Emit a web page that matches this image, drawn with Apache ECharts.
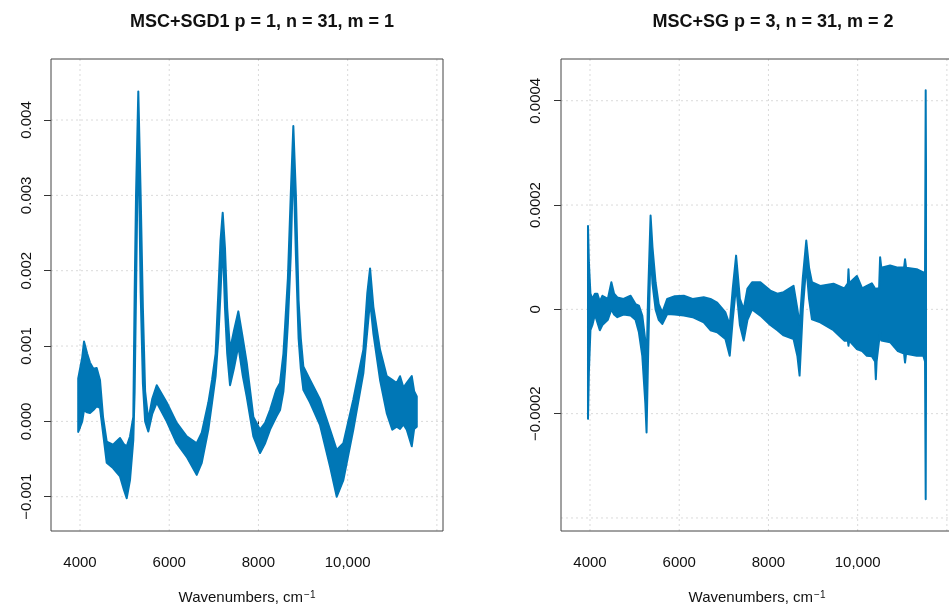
<!DOCTYPE html>
<html>
<head>
<meta charset="utf-8">
<script src="https://cdn.jsdelivr.net/npm/echarts@6/dist/echarts.min.js"></script>
<style>html,body{margin:0;padding:0;background:#fff}#c{width:949px;height:606px}</style>
</head>
<body>
<div id="c"></div>
<script>
// ---- Left panel: MSC+SGD1 (envelope of the 31 spectra) ----
const wnLeft = [3960,4050,4090,4160,4224,4300,4374,4448,4516,4599,4740,4897,4980,5047,5121,5195,5225,5256,5307,5360,5410,5460,5531,5620,5720,5944,6168,6392,6616,6729,6877,6960,7040,7100,7150,7199,7250,7300,7363,7450,7549,7650,7737,7886,8036,8150,8260,8400,8484,8560,8600,8660,8724,8782,8840,8900,8950,9006,9157,9381,9605,9755,9903,10127,10352,10440,10502,10576,10726,10876,11000,11100,11174,11250,11325,11437,11490,11549];
const upperLeft = [0.00057,0.00085,0.00106,0.0009,0.00078,0.0007,0.00071,0.00055,0.00006,-0.00027,-0.00031,-0.00022,-0.0003,-0.00033,-0.0002,0.00006,0.0017,0.003,0.00438,0.003,0.0015,0.0004,0.00002,0.0003,0.00048,0.00025,-0.00002,-0.0002,-0.00029,-0.00015,0.00025,0.00055,0.0009,0.0017,0.0024,0.00277,0.0023,0.0015,0.00095,0.0012,0.00146,0.0011,0.00078,0.00006,-0.00011,-0.00002,0.00015,0.00042,0.00051,0.0009,0.0013,0.0019,0.003,0.00392,0.003,0.0016,0.0011,0.00073,0.00055,0.00029,-0.00011,-0.00038,-0.00029,0.00029,0.00095,0.0017,0.00203,0.00152,0.00095,0.0006,0.00055,0.00051,0.0006,0.00045,0.00051,0.0006,0.0004,0.00033];
const lowerLeft = [-0.00014,0.0,0.00015,0.00012,0.00011,0.00015,0.0002,0.00018,-0.00015,-0.00055,-0.00062,-0.00073,-0.0009,-0.00102,-0.00078,-0.00025,0.0004,0.0017,0.004,0.0017,0.0005,0.0,-0.000135,0.0001,0.00025,0.0,-0.00029,-0.00047,-0.00071,-0.00055,-0.00011,0.00025,0.0006,0.0011,0.0017,0.0024,0.0015,0.0009,0.00048,0.0007,0.001,0.0006,0.00033,-0.0002,-0.00042,-0.00029,-0.00011,0.00006,0.00015,0.0004,0.0007,0.0013,0.0022,0.0035,0.0022,0.0011,0.0007,0.00042,0.00025,-0.00005,-0.0006,-0.001,-0.00078,-0.00011,0.00064,0.0012,0.0016,0.00117,0.00055,0.00011,-0.00011,-0.00007,-0.0001,-0.00004,-0.00011,-0.00033,-0.0001,-0.00007];

// ---- Right panel: MSC+SG (envelope of the 31 spectra) ----
const wnRight = [3955,3975,4010,4054,4110,4166,4220,4277,4400,4479,4540,4613,4750,4910,5020,5096,5172,5240,5268,5300,5358,5400,5470,5540,5620,5731,5900,6103,6300,6550,6700,6850,7036,7132,7200,7275,7360,7445,7530,7633,7819,8042,8200,8340,8563,8650,8698,8770,8848,8910,8975,9161,9458,9700,9780,9794,9810,9982,10100,10205,10317,10390,10407,10425,10480,10503,10530,10727,10900,11040,11062,11085,11324,11472,11510,11525,11532];
const upperRight = [0.00016,0.00009,0.00003,0.00002,0.00003,0.00003,0.000015,0.000026,0.00002,0.000052,0.00003,0.000023,0.00002,0.000026,0.00001,0.000007,-0.000012,-0.00006,-0.000108,0.00002,0.00018,0.00012,0.000052,0.00001,-0.000006,0.00002,0.000025,0.000026,0.00002,0.000023,0.00002,0.000013,-0.000006,-0.00003,0.00004,0.000103,0.00002,0.0,0.00004,0.000052,0.000052,0.000036,0.00003,0.000033,0.000045,0.0,-0.00003,0.00006,0.000132,0.00008,0.000052,0.000045,0.000049,0.00004,0.00005,0.000077,0.00005,0.000064,0.00004,0.000045,0.00005,0.00004,0.000039,0.00004,0.00004,0.0001,0.00008,0.000084,0.00008,0.00008,0.000096,0.00008,0.000077,0.000071,0.00007,0.00042,0.00027];
const lowerRight = [-0.00021,-0.00012,-0.00004,-0.00003,-0.00001,-0.000025,-0.00004,-0.00003,-0.00002,0.0,-0.00001,-0.000015,-0.00001,-0.000012,-0.00002,-0.000044,-0.000089,-0.00018,-0.000236,-0.0001,0.000116,0.00005,0.0,-0.00002,-0.000028,-0.000009,-0.00001,-0.000012,-0.000015,-0.000025,-0.00004,-0.000044,-0.000057,-0.000089,-0.00002,0.000045,-0.00003,-0.00006,-0.00002,0.0,-0.000012,-0.00003,-0.00004,-0.00005,-0.000057,-0.00009,-0.000127,0.0,0.000084,0.00002,-0.000019,-0.000025,-0.00004,-0.00006,-0.00006,-0.00007,-0.00006,-0.000076,-0.00008,-0.000089,-0.00009,-0.0001,-0.000134,-0.0001,-0.00006,-0.000044,-0.00006,-0.000063,-0.00008,-0.000085,-0.000102,-0.000085,-0.000089,-0.000089,-0.0001,-0.000364,-0.00015];

// ---- Axis ticks / labels / gridlines ----
const xTicks = [4000, 6000, 8000, 10000];
const xTickLabels = ['4000', '6000', '8000', '10,000'];
const xGrid = [4000, 6000, 8000, 10000, 12000];
const yTicksLeft = [-0.001, 0, 0.001, 0.002, 0.003, 0.004];
const yTickLabelsLeft = ['\u22120.001', '0.000', '0.001', '0.002', '0.003', '0.004'];
const yGridLeft = [-0.001, 0, 0.001, 0.002, 0.003, 0.004];
const yTicksRight = [-0.0002, 0, 0.0002, 0.0004];
const yTickLabelsRight = ['\u22120.0002', '0', '0.0002', '0.0004'];
const yGridRight = [-0.0004, -0.0002, 0, 0.0002, 0.0004];

const titles = ['MSC+SGD1 p = 1, n = 31, m = 1', 'MSC+SG p = 3, n = 31, m = 2'];

const BLUE = '#0077b6';
const FONT = 'Liberation Sans, Arial, Helvetica, sans-serif';
const INK = '#111';
const GRIDC = '#dadada';

function lbl(ticks, labels) {
  return function (v) {
    for (let i = 0; i < ticks.length; i++) if (Math.abs(ticks[i] - v) < 1e-9) return labels[i];
    return '';
  };
}

function bandRenderer(xs, us, ls) {
  return function (params, api) {
    if (params.dataIndex !== 0) return null;
    const pts = [];
    for (let i = 0; i < xs.length; i++) pts.push(api.coord([xs[i], us[i]]));
    for (let i = xs.length - 1; i >= 0; i--) pts.push(api.coord([xs[i], ls[i]]));
    return {
      type: 'polygon',
      shape: { points: pts },
      style: { fill: BLUE, stroke: BLUE, lineWidth: 2, lineJoin: 'round' }
    };
  };
}

function gridSeries(idx, ys) {
  const data = [];
  xGrid.forEach(v => data.push([v, ys[0], 0]));
  ys.forEach(v => data.push([xGrid[0], v, 1]));
  return {
    type: 'custom', xAxisIndex: idx, yAxisIndex: idx, z: 1, silent: true, clip: true,
    encode: { x: 0, y: 1 },
    data: data,
    renderItem: function (params, api) {
      const cs = params.coordSys;
      const p = api.coord([api.value(0), api.value(1)]);
      const horiz = api.value(2) === 1;
      const shape = horiz
        ? { x1: cs.x, y1: p[1], x2: cs.x + cs.width, y2: p[1] }
        : { x1: p[0], y1: cs.y, x2: p[0], y2: cs.y + cs.height };
      return { type: 'line', shape: shape, style: { stroke: GRIDC, lineWidth: 1, lineDash: [2, 3] } };
    }
  };
}

function xAxisCfg(idx) {
  return {
    type: 'value', gridIndex: idx, min: 3350, max: 12137,
    axisLine: { show: false },
    splitLine: { show: false },
    axisTick: { show: true, inside: false, length: 7, customValues: xTicks, lineStyle: { color: '#333', width: 1 } },
    axisLabel: { customValues: xTicks, formatter: lbl(xTicks, xTickLabels), margin: 24, fontSize: 15, color: INK, fontFamily: FONT },
    name: 'Wavenumbers, cm{sup|\u22121}',
    nameLocation: 'middle', nameGap: 59,
    nameTextStyle: {
      fontSize: 15, color: INK, fontFamily: FONT,
      rich: { sup: { fontSize: 10, verticalAlign: 'top', color: INK, fontFamily: FONT, padding: [0, 0, 6, 1] } }
    }
  };
}

function yAxisCfg(idx, min, max, ticks, labels, margin) {
  return {
    type: 'value', gridIndex: idx, min: min, max: max,
    axisLine: { show: false },
    splitLine: { show: false },
    axisTick: { show: true, inside: false, length: 7, customValues: ticks, lineStyle: { color: '#333', width: 1 } },
    axisLabel: { customValues: ticks, formatter: lbl(ticks, labels), rotate: 90, margin: margin, fontSize: 15, color: INK, fontFamily: FONT }
  };
}

const chart = echarts.init(document.getElementById('c'), null, { renderer: 'canvas' });
chart.setOption({
  animation: false,
  backgroundColor: '#fff',
  grid: [
    { left: 51, top: 59, width: 392, height: 472, outerBoundsMode: 'none', containLabel: false, show: true, borderColor: '#444', borderWidth: 1, backgroundColor: 'transparent', z: 3 },
    { left: 561, top: 59, width: 392, height: 472, outerBoundsMode: 'none', containLabel: false, show: true, borderColor: '#444', borderWidth: 1, backgroundColor: 'transparent', z: 3 }
  ],
  xAxis: [xAxisCfg(0), xAxisCfg(1)],
  yAxis: [
    yAxisCfg(0, -0.001455, 0.00481, yTicksLeft, yTickLabelsLeft, 17),
    yAxisCfg(1, -0.000425, 0.00048, yTicksRight, yTickLabelsRight, 18)
  ],
  graphic: [
    { type: 'text', x: 262, y: 22, style: { text: titles[0], font: 'bold 18px ' + FONT, fill: INK, textAlign: 'center', textVerticalAlign: 'middle' } },
    { type: 'text', x: 773, y: 22, style: { text: titles[1], font: 'bold 18px ' + FONT, fill: INK, textAlign: 'center', textVerticalAlign: 'middle' } }
  ],
  series: [
    gridSeries(0, yGridLeft),
    gridSeries(1, yGridRight),
    {
      type: 'custom', xAxisIndex: 0, yAxisIndex: 0, z: 2, clip: true, silent: true,
      encode: { x: 0, y: [1, 2] },
      data: wnLeft.map((x, i) => [x, upperLeft[i], lowerLeft[i]]),
      renderItem: bandRenderer(wnLeft, upperLeft, lowerLeft)
    },
    {
      type: 'custom', xAxisIndex: 1, yAxisIndex: 1, z: 2, clip: true, silent: true,
      encode: { x: 0, y: [1, 2] },
      data: wnRight.map((x, i) => [x, upperRight[i], lowerRight[i]]),
      renderItem: bandRenderer(wnRight, upperRight, lowerRight)
    }
  ]
});
</script>
</body>
</html>
